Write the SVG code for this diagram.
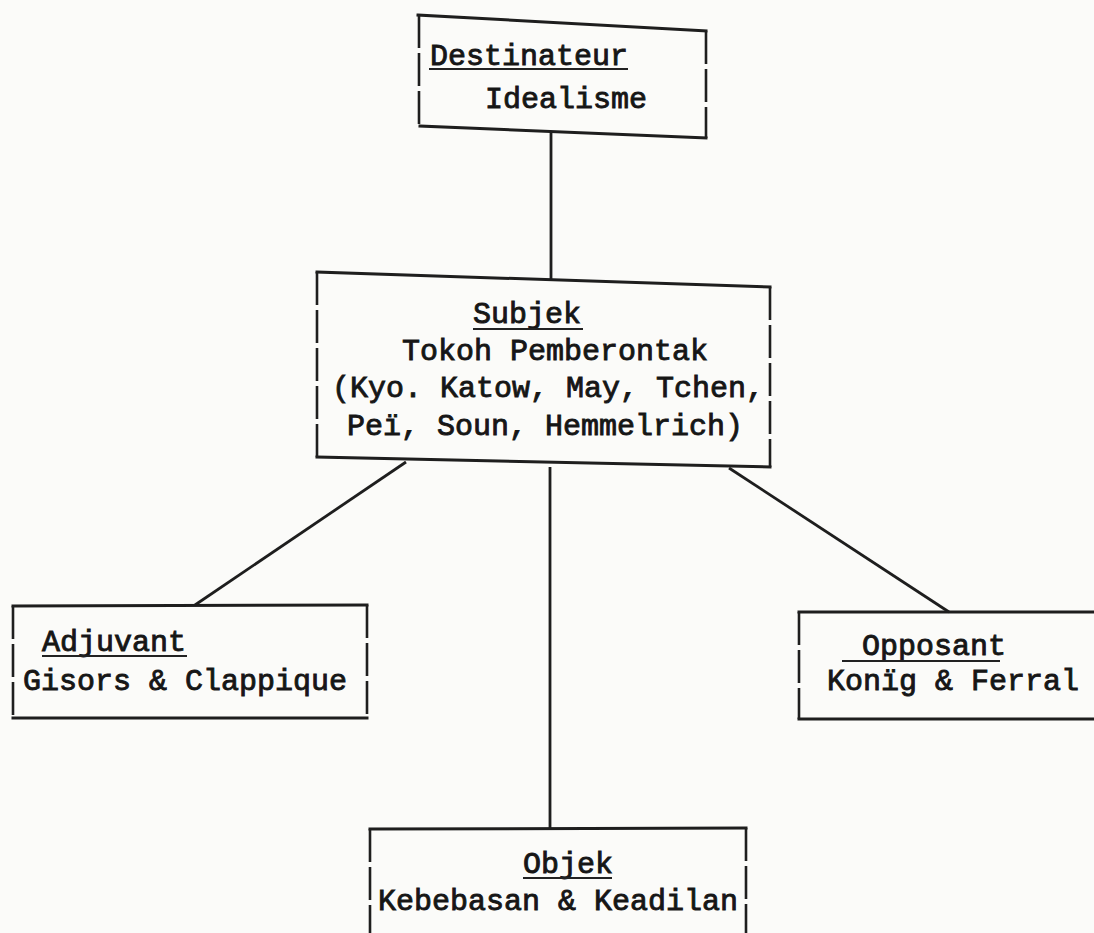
<svg xmlns="http://www.w3.org/2000/svg" width="1094" height="933" viewBox="0 0 1094 933">
  <style>
    .bg { fill: #fbfbf9; }
    .edge { stroke: #1e1e1e; stroke-width: 3; fill: none; stroke-linecap: square; }
    .side { stroke: #1e1e1e; stroke-width: 2.6; fill: none; stroke-dasharray: 33 5; }
    .link { stroke: #1e1e1e; stroke-width: 2.8; fill: none; }
    .ul { stroke: #222; stroke-width: 2.2; fill: none; }
    text { font-family: "Liberation Mono", "DejaVu Sans Mono", monospace; font-size: 30px; fill: #161616; stroke: #161616; stroke-width: 0.9; }
  </style>

  <rect class="bg" x="0" y="0" width="1094" height="933"/>

  <!-- connectors -->
  <g id="connectors">
    <line class="link" x1="551" y1="132" x2="551" y2="280"/>
    <line class="link" x1="406" y1="462" x2="195" y2="605"/>
    <line class="link" x1="550" y1="467" x2="550" y2="829"/>
    <line class="link" x1="729" y1="468" x2="949" y2="612"/>
  </g>

  <!-- Destinateur -->
  <g id="destinateur">
    <line class="edge" x1="418" y1="15" x2="706" y2="31"/>
    <line class="edge" x1="420" y1="126" x2="706" y2="138"/>
    <line class="side" x1="419" y1="15" x2="419" y2="126"/>
    <line class="side" x1="706" y1="31" x2="706" y2="138"/>
    <text x="430" y="65">Destinateur</text>
    <line class="ul" x1="429" y1="69" x2="628" y2="69"/>
    <text x="485" y="108">Idealisme</text>
  </g>

  <!-- Subjek -->
  <g id="subjek">
    <line class="edge" x1="317" y1="272" x2="770" y2="287"/>
    <line class="edge" x1="317" y1="457" x2="770" y2="467"/>
    <line class="side" x1="317" y1="272" x2="317" y2="457"/>
    <line class="side" x1="770" y1="287" x2="770" y2="467"/>
    <text x="473" y="323">Subjek</text>
    <line class="ul" x1="473" y1="329" x2="583" y2="329"/>
    <text x="402" y="360">Tokoh Pemberontak</text>
    <text x="332" y="397">(Kyo. Katow, May, Tchen,</text>
    <text x="347" y="435">Peï, Soun, Hemmelrich)</text>
  </g>

  <!-- Adjuvant -->
  <g id="adjuvant">
    <line class="edge" x1="13" y1="606" x2="367" y2="605"/>
    <line class="edge" x1="13" y1="718" x2="367" y2="718"/>
    <line class="side" x1="13" y1="606" x2="13" y2="718"/>
    <line class="side" x1="367" y1="605" x2="367" y2="718"/>
    <text x="42" y="651">Adjuvant</text>
    <line class="ul" x1="42" y1="656" x2="187" y2="656"/>
    <text x="23" y="690">Gisors &amp; Clappique</text>
  </g>

  <!-- Opposant -->
  <g id="opposant">
    <line class="edge" x1="799" y1="612" x2="1094" y2="612"/>
    <line class="edge" x1="799" y1="719" x2="1094" y2="719"/>
    <line class="side" x1="799" y1="612" x2="799" y2="719"/>
    <text x="862" y="655">Opposant</text>
    <line class="ul" x1="842" y1="661" x2="1000" y2="661"/>
    <text x="827" y="690">Konïg &amp; Ferral</text>
  </g>

  <!-- Objek -->
  <g id="objek">
    <line class="edge" x1="370" y1="829" x2="746" y2="828"/>
    <line class="side" x1="370" y1="829" x2="370" y2="933"/>
    <line class="side" x1="746" y1="828" x2="746" y2="933"/>
    <text x="523" y="873">Objek</text>
    <line class="ul" x1="523" y1="878" x2="612" y2="878"/>
    <text x="378" y="910">Kebebasan &amp; Keadilan</text>
  </g>
</svg>
